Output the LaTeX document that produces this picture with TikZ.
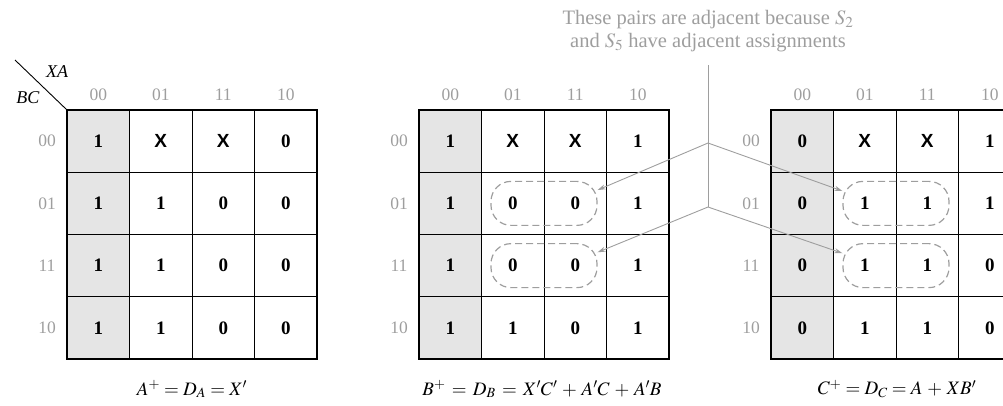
\documentclass[tikz,border=0pt]{standalone}
\usepackage{mathptmx}
\usepackage{fontspec}
\setmainfont{Liberation Serif}
\newfontfamily\dcfont{Liberation Sans}
\usetikzlibrary{arrows.meta,calc,positioning}

\definecolor{labelgray}{gray}{0.62}
\definecolor{linegray}{gray}{0.62}
\definecolor{shadegray}{gray}{0.9}

% don't care entry
\newcommand{\dc}{{\dcfont\bfseries X}}

% one K-map: name, left edge, rows of entries
\newcommand{\kmap}[3]{%
	\fill[shadegray] (#2,110) rectangle ++(62.5,249);
	\foreach \row [count=\i from 0] in {#3} {
		\foreach \v [count=\j from 0] in \row
			\node[cell] (#1\i\j) at (#2+31.25+62.5*\j, 141.125+62.25*\i) {\v};
	}
	\draw[line width=1.8pt] (#2,110) rectangle ++(250,249);
	\foreach \lab [count=\j from 0] in {00,01,11,10} {
		\node[idx] (#1col\j) at (#2+31.25+62.5*\j, 95) {\lab};
		\node[idx] (#1row\j) at (#2-20, 141.125+62.25*\j) {\lab};
	}
}

\tikzset{
	cell/.style={draw, line width=0.8pt, minimum width=62.5pt, minimum height=62.25pt,
		inner sep=0pt, font=\fontsize{19}{20}\selectfont\bfseries},
	idx/.style={text=labelgray, font=\fontsize{17.5}{18}\selectfont},
	pair/.style={draw=linegray, dash pattern=on 7pt off 4pt, line width=1.2pt,
		rounded corners=20pt, minimum width=106pt, minimum height=44pt},
	pointer/.style={draw=linegray, line width=0.9pt, -{Stealth[length=8pt,width=5pt]}},
	caption/.style={font=\fontsize{19}{20}\selectfont},
}

\begin{document}
\begin{tikzpicture}[x=1pt,y=-1pt]
	\useasboundingbox (0,0) rectangle (1003,405);
	\clip (0,0) rectangle (1003,405);

	% the three maps
	\kmap{a}{67}{{1,\dc,\dc,0},{1,1,0,0},{1,1,0,0},{1,1,0,0}}
	\kmap{b}{419}{{1,\dc,\dc,1},{1,0,0,1},{1,0,0,1},{1,1,0,1}}
	\kmap{c}{771}{{0,\dc,\dc,1},{0,1,1,1},{0,1,1,0},{0,1,1,0}}

	% corner of the first map
	\coordinate (diagA) at (15,60);
	\draw[line width=0.9pt] (diagA) -- (a00.north west);
	\node[font=\fontsize{18}{20}\selectfont\itshape] (XA) at (57,72) {XA};
	\node[font=\fontsize{18}{20}\selectfont\itshape] (BC) at (28,98) {BC};

	% adjacent pairs
	\node[pair] (bp1) at ($(b11)!0.5!(b12)$) {};
	\node[pair] (bp2) at ($(b21)!0.5!(b22)$) {};
	\node[pair] (cp1) at ($(c11)!0.5!(c12)$) {};
	\node[pair] (cp2) at ($(c21)!0.5!(c22)$) {};

	\node[text=linegray, align=center, font=\fontsize{20.5}{23}\selectfont] (note) at (708,31)
		{These pairs are adjacent because $S_2$\\and $S_5$ have adjacent assignments};
	\coordinate (top) at (708,65);
	\coordinate (br1) at (708,143);
	\coordinate (br2) at (708,207);
	\draw[linegray, line width=0.9pt] (top) -- (br2);
	\draw[pointer] (br1) -- (bp1.14);
	\draw[pointer] (br2) -- (bp2.14);
	\draw[pointer] (br1) -- (cp1.167);
	\draw[pointer] (br2) -- (cp2.167);

	% next-state equations
	\node[caption] (capA) at (192,389) {$A^+ = D_A = X'$};
	\node[caption] (capB) at (542,389) {$B^+ \,=\, D_B \,=\, X'C' \,+\, A'C \,+\, A'B$};
	\node[caption] (capC) at (897,389) {$C^+ = D_C = A \,+\, XB'$};
\end{tikzpicture}
\end{document}
